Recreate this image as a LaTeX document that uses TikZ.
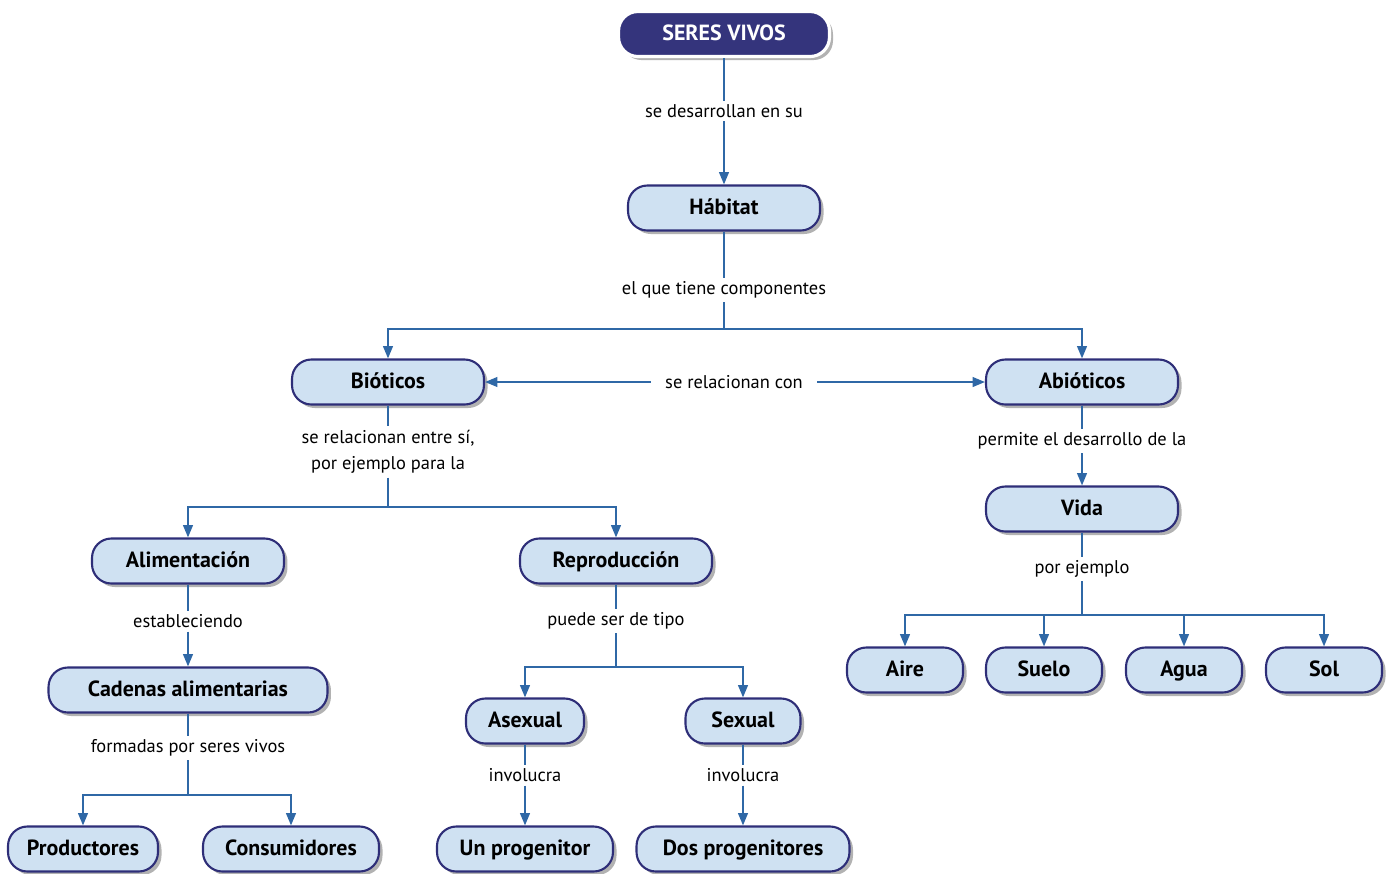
\documentclass[tikz,border=0pt]{standalone}
\usepackage{fontspec}
\setmainfont{PT Sans}
\usetikzlibrary{arrows.meta,shadows}
\definecolor{Navy}{HTML}{34347C}
\definecolor{Edge}{HTML}{2E2E78}
\definecolor{Pale}{HTML}{CFE1F2}
\definecolor{Link}{HTML}{2F68A6}

\begin{document}
\begin{tikzpicture}[x=0.02cm,y=-0.02cm,>={Triangle[length=7pt,width=5.5pt]},
    box/.style={draw=Edge,line width=1.2pt,fill=Pale,rounded corners=11pt,minimum height=0.9cm,
      text height=1.95ex,text depth=0.45ex,font=\fontsize{12.5}{14}\selectfont\bfseries,
      drop shadow={shadow xshift=2pt,shadow yshift=-2pt,fill=black,opacity=0.3}},
    top/.style={box,fill=Navy,draw=white,text=white,line width=1.8pt},
    lbl/.style={fill=white,inner sep=2pt,align=center,font=\fontsize{10.5}{15}\selectfont},
    link/.style={draw=Link,line width=1.1pt}]
  \useasboundingbox (0,0) rectangle (1389,873);

  % boxes
  \node[top,minimum width=4.22cm] (seres) at (724,34) {SERES VIVOS};
  \node[box,minimum width=3.84cm] (habitat) at (724,208) {Hábitat};
  \node[box,minimum width=3.84cm] (bioticos) at (388,382) {Bióticos};
  \node[box,minimum width=3.84cm] (abioticos) at (1082,382) {Abióticos};
  \node[box,minimum width=3.84cm] (alim) at (188,561) {Alimentación};
  \node[box,minimum width=3.84cm] (repro) at (616,561) {Reproducción};
  \node[box,minimum width=5.58cm] (cadenas) at (188,690) {Cadenas alimentarias};
  \node[box,minimum width=3.0cm] (prod) at (83,849) {Productores};
  \node[box,minimum width=3.52cm] (cons) at (291,849) {Consumidores};
  \node[box,minimum width=2.36cm] (asexual) at (525,721) {Asexual};
  \node[box,minimum width=2.3cm] (sexual) at (743,721) {Sexual};
  \node[box,minimum width=3.52cm] (unprog) at (525,849) {Un progenitor};
  \node[box,minimum width=4.26cm] (dosprog) at (743,849) {Dos progenitores};
  \node[box,minimum width=3.84cm] (vida) at (1082,509) {Vida};
  \node[box,minimum width=2.32cm] (aire) at (905,670) {Aire};
  \node[box,minimum width=2.32cm] (suelo) at (1044,670) {Suelo};
  \node[box,minimum width=2.32cm] (agua) at (1184,670) {Agua};
  \node[box,minimum width=2.32cm] (sol) at (1324,670) {Sol};

  % linking words
  \node[lbl] (ldes) at (724,111) {se desarrollan en su};
  \node[lbl] (lcomp) at (724,290) {el que tiene componentes};
  \node[lbl,inner xsep=8pt] (lrel) at (734,382) {se relacionan con};
  \node[lbl] (lentre) at (388,452) {se relacionan entre sí,\\por ejemplo para la};
  \node[lbl] (lest) at (188,621) {estableciendo};
  \node[lbl] (lform) at (188,748) {formadas por seres vivos};
  \node[lbl] (ltipo) at (616,621) {puede ser de tipo};
  \node[lbl] (linva) at (525,775) {involucra};
  \node[lbl] (linvb) at (743,775) {involucra};
  \node[lbl] (lperm) at (1082,441) {permite el desarrollo de la};
  \node[lbl] (lej) at (1082,569) {por ejemplo};

  \coordinate (jcomp) at (724,329);
  \coordinate (jbio) at (388,507);
  \coordinate (jcad) at (188,795);
  \coordinate (jrep) at (616,667);
  \coordinate (jvida) at (1082,615);

  % connectors
  \draw[link] (seres) -- (ldes);
  \draw[link,->] (ldes) -- (habitat);
  \draw[link] (habitat) -- (lcomp) -- (jcomp);
  \draw[link,->] (jcomp) -| (bioticos);
  \draw[link,->] (jcomp) -| (abioticos);
  \draw[link,->] (lrel) -- (bioticos);
  \draw[link,->] (lrel) -- (abioticos);
  \draw[link] (bioticos) -- (lentre) -- (jbio);
  \draw[link,->] (jbio) -| (alim);
  \draw[link,->] (jbio) -| (repro);
  \draw[link] (alim) -- (lest);
  \draw[link,->] (lest) -- (cadenas);
  \draw[link] (cadenas) -- (lform) -- (jcad);
  \draw[link,->] (jcad) -| (prod);
  \draw[link,->] (jcad) -| (cons);
  \draw[link] (repro) -- (ltipo) -- (jrep);
  \draw[link,->] (jrep) -| (asexual);
  \draw[link,->] (jrep) -| (sexual);
  \draw[link] (asexual) -- (linva);
  \draw[link,->] (linva) -- (unprog);
  \draw[link] (sexual) -- (linvb);
  \draw[link,->] (linvb) -- (dosprog);
  \draw[link] (abioticos) -- (lperm);
  \draw[link,->] (lperm) -- (vida);
  \draw[link] (vida) -- (lej) -- (jvida);
  \foreach \n in {aire,suelo,agua,sol}
    \draw[link,->] (jvida) -| (\n);
\end{tikzpicture}
\end{document}
